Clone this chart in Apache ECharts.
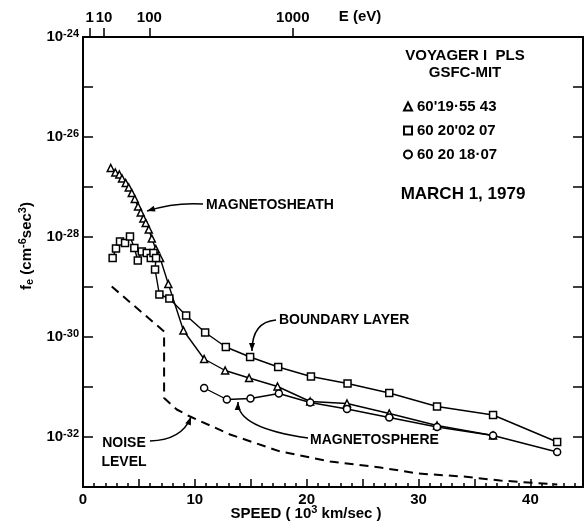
<!DOCTYPE html>
<html>
<head>
<meta charset="utf-8">
<script src="https://cdn.jsdelivr.net/npm/echarts@6/dist/echarts.min.js"></script>
<style>
  html, body { margin: 0; padding: 0; background: #fff; }
  #chart { width: 584px; height: 526px; }
</style>
</head>
<body>
<div id="chart"></div>
<script>
// speeds in 10^3 km/s, f as log10(f) (ECharts' log axis cannot handle values this small)
const triSpeed = [2.48, 2.89, 3.25, 3.49, 3.82, 4.09, 4.36, 4.63, 4.92, 5.16, 5.40, 5.61, 5.88, 6.15, 6.51, 6.89, 7.63, 8.98, 10.83, 12.71, 14.85, 17.39, 20.31, 23.60, 27.38, 31.65, 36.66];
const triLogF = [-26.62, -26.71, -26.75, -26.83, -26.92, -27.01, -27.12, -27.24, -27.39, -27.51, -27.63, -27.72, -27.85, -28.03, -28.24, -28.42, -28.94, -29.87, -30.44, -30.67, -30.82, -30.99, -31.29, -31.33, -31.53, -31.77, -31.97];

const sqSpeed = [2.65, 2.95, 3.31, 3.76, 4.20, 4.59, 4.90, 5.26, 5.70, 6.06, 6.30, 6.53, 6.44, 6.83, 7.72, 9.22, 10.92, 12.77, 14.94, 17.45, 20.38, 23.65, 27.38, 31.65, 36.66, 42.39];
const sqLogF = [-28.42, -28.23, -28.09, -28.12, -27.99, -28.22, -28.47, -28.29, -28.32, -28.42, -28.32, -28.42, -28.65, -29.15, -29.23, -29.57, -29.91, -30.20, -30.40, -30.60, -30.79, -30.93, -31.12, -31.39, -31.56, -32.10];

const circSpeed = [10.83, 12.86, 14.97, 17.51, 20.31, 23.60, 27.38, 31.65, 36.66, 42.39];
const circLogF = [-31.02, -31.25, -31.23, -31.13, -31.31, -31.44, -31.61, -31.80, -31.97, -32.30];

const noiseSpeed = [2.57, 7.25, 7.25, 8.38, 9.57, 13.15, 17.63, 22.10, 26.58, 29.98, 34.0, 37.3, 42.4];
const noiseLogF = [-28.99, -29.89, -31.22, -31.45, -31.59, -31.95, -32.29, -32.49, -32.61, -32.73, -32.79, -32.87, -32.95];

const seriesNames = ["60'19·55 43", "60 20'02 07", "60 20 18·07"];
const energyTicks = [1, 10, 100, 1000]; // eV, top axis
const EV_PER_V2 = 2.843; // electron: E(eV) = 2.843 * v^2, v in 10^3 km/s

const FONT = 'Liberation Sans';
const pairs = (xs, ls) => xs.map((x, i) => [x, ls[i]]);
const speedTicks = energyTicks.map(e => Math.sqrt(e / EV_PER_V2));

const chart = echarts.init(document.getElementById('chart'));

const markerStyle = { color: '#fff', borderColor: '#000', borderWidth: 1.5 };
const lineStyle = { color: '#000', width: 1.4 };

function dataSeries(name, symbol, xs, ls) {
  return {
    name, type: 'line', symbol, symbolSize: 7, showAllSymbol: true,
    data: pairs(xs, ls), lineStyle, itemStyle: markerStyle,
    emphasis: { disabled: true }, z: 3
  };
}

// arrow from p0 via control c to tip p1
function arrow(p0, c, p1) {
  const dx = p1[0] - c[0], dy = p1[1] - c[1];
  const n = Math.hypot(dx, dy), ux = dx / n, uy = dy / n;
  const bx = p1[0] - ux * 8, by = p1[1] - uy * 8;
  return [
    { type: 'bezierCurve', shape: { x1: p0[0], y1: p0[1], cpx1: c[0], cpy1: c[1], x2: p1[0], y2: p1[1] },
      style: { stroke: '#000', lineWidth: 1.5, fill: null } },
    { type: 'polygon', shape: { points: [p1, [bx - uy * 3, by + ux * 3], [bx + uy * 3, by - ux * 3]] },
      style: { fill: '#000' } }
  ];
}

function label(text, x, y, size, align) {
  return { type: 'text', x, y, style: { text, font: `bold ${size}px "${FONT}"`, fill: '#000',
    align: align || 'left', verticalAlign: 'middle' } };
}

const supRich = {
  b: { fontSize: 15, fontFamily: FONT, fontWeight: 'bold', color: '#000' },
  s: { fontSize: 11, fontFamily: FONT, fontWeight: 'bold', color: '#000', padding: [0, 0, 7, 0] }
};

const option = {
  animation: false,
  grid: { left: 83, right: 1, top: 37, bottom: 39 },
  legend: {
    orient: 'vertical', left: 398, top: 94, itemGap: 9, itemWidth: 8, itemHeight: 8,
    textStyle: { fontFamily: FONT, fontWeight: 'bold', fontSize: 15, color: '#000' },
    data: [
      { name: seriesNames[0], icon: 'triangle' },
      { name: seriesNames[1], icon: 'rect' },
      { name: seriesNames[2], icon: 'circle' }
    ],
    selectedMode: false
  },
  xAxis: [
    {
      type: 'value', min: 0, max: 44.7, interval: 5, position: 'bottom',
      axisLine: { onZero: false, lineStyle: { color: '#000', width: 2 } },
      axisTick: { inside: true, length: 8, lineStyle: { color: '#000', width: 1.5 } },
      minorTick: { show: true, splitNumber: 5, length: 4, lineStyle: { color: '#000', width: 1.5 } },
      splitLine: { show: false },
      axisLabel: { margin: 5, fontFamily: FONT, fontWeight: 'bold', fontSize: 15, color: '#000',
        showMaxLabel: false, formatter: v => (v % 10 === 0 ? String(v) : '') }
    },
    {
      type: 'value', min: 0, max: 44.7, position: 'top',
      axisLine: { show: true, onZero: false, lineStyle: { color: '#000', width: 2 } },
      axisTick: { show: true, inside: false, length: 9, customValues: speedTicks, lineStyle: { color: '#000', width: 1.5 } },
      splitLine: { show: false },
      axisLabel: { show: true, margin: 12, customValues: speedTicks, fontFamily: FONT, fontWeight: 'bold', fontSize: 15, color: '#000',
        formatter: v => String(Math.round(EV_PER_V2 * v * v)) }
    }
  ],
  yAxis: [
    {
      type: 'value', min: -33, max: -24, interval: 1, position: 'left',
      axisLine: { show: true, onZero: false, lineStyle: { color: '#000', width: 2 } },
      axisTick: { show: true, inside: true, length: 10, lineStyle: { color: '#000', width: 1.5 } },
      splitLine: { show: false },
      axisLabel: { margin: 4, rich: supRich,
        formatter: v => (v % 2 === 0 ? '{b|10}{s|' + v + '}' : '') }
    },
    {
      type: 'value', min: -33, max: -24, interval: 1, position: 'right',
      axisLine: { show: true, onZero: false, lineStyle: { color: '#000', width: 2 } },
      axisTick: { show: true, inside: true, length: 10, lineStyle: { color: '#000', width: 1.5 } },
      splitLine: { show: false }, axisLabel: { show: false }
    }
  ],
  series: [
    dataSeries(seriesNames[0], 'triangle', triSpeed, triLogF),
    dataSeries(seriesNames[1], 'rect', sqSpeed, sqLogF),
    dataSeries(seriesNames[2], 'circle', circSpeed, circLogF),
    {
      name: 'noise', type: 'line', symbol: 'none', data: pairs(noiseSpeed, noiseLogF),
      lineStyle: { color: '#000', width: 2, type: [9, 6] }, emphasis: { disabled: true }, z: 2
    }
  ],
  graphic: [
    label('VOYAGER I  PLS', 465, 56, 15, 'center'),
    label('GSFC-MIT', 465, 73, 15, 'center'),
    label('MARCH 1, 1979', 463, 194, 17, 'center'),
    label('E (eV)', 360, 17, 15, 'center'),
    label('MAGNETOSHEATH', 206, 205, 14),
    ...arrow([203, 204], [175, 202], [147, 211]),
    label('BOUNDARY LAYER', 279, 320, 14),
    ...arrow([276, 320], [252, 322], [252, 351]),
    label('MAGNETOSPHERE', 310, 440, 14),
    ...arrow([308, 438], [237, 428], [238, 402]),
    label('NOISE', 124, 443, 14, 'center'),
    label('LEVEL', 124, 462, 14, 'center'),
    ...arrow([150, 441], [182, 440], [191, 417]),
    {
      type: 'text', x: 27, y: 246, rotation: Math.PI / 2,
      style: {
        text: '{a|f}{sub|e}{a| (cm}{sup|-6}{a|sec}{sup|3}{a|)}', align: 'center', verticalAlign: 'middle',
        rich: {
          a: { fontFamily: FONT, fontWeight: 'bold', fontSize: 15, fill: '#000' },
          sub: { fontFamily: FONT, fontWeight: 'bold', fontSize: 11, fill: '#000', padding: [6, 0, 0, 0] },
          sup: { fontFamily: FONT, fontWeight: 'bold', fontSize: 11, fill: '#000', padding: [0, 0, 9, 0] }
        }
      }
    },
    {
      type: 'text', x: 306, y: 514,
      style: {
        text: '{a|SPEED ( 10}{sup|3}{a| km/sec )}', align: 'center', verticalAlign: 'middle',
        rich: {
          a: { fontFamily: FONT, fontWeight: 'bold', fontSize: 15, fill: '#000' },
          sup: { fontFamily: FONT, fontWeight: 'bold', fontSize: 11, fill: '#000', padding: [0, 0, 9, 0] }
        }
      }
    }
  ]
};

chart.setOption(option);
</script>
</body>
</html>
